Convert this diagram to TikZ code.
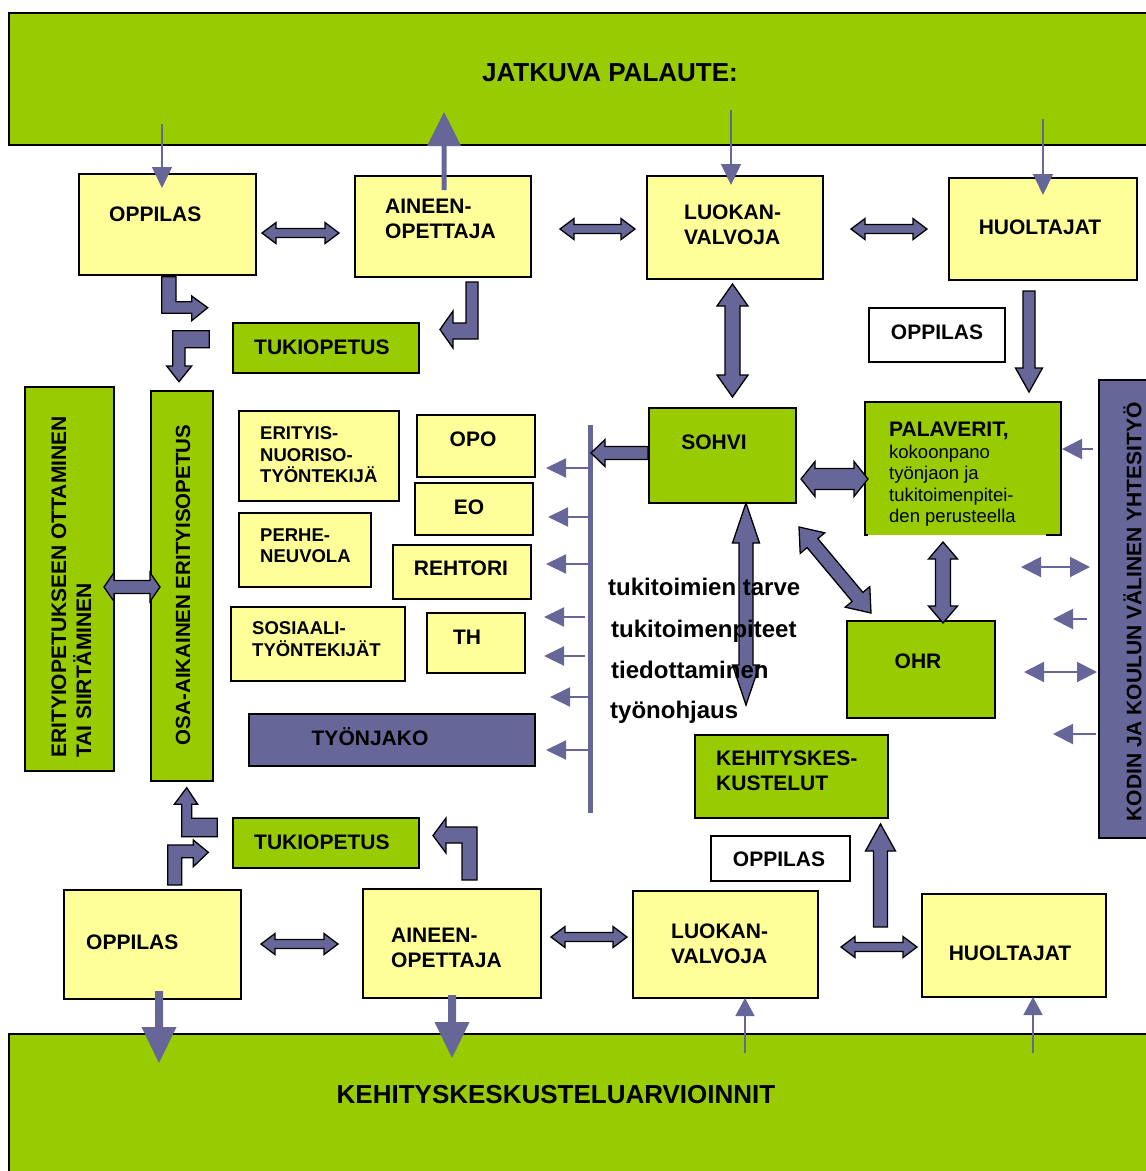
\documentclass[tikz,border=0pt]{standalone}
\usepackage{fontspec}
\setmainfont{Liberation Sans}
\usetikzlibrary{calc,arrows.meta}
\definecolor{grn}{HTML}{99CC00}
\definecolor{yel}{HTML}{FFFF99}
\definecolor{pur}{HTML}{666699}

\newcommand{\bx}[6]{\node[#1, minimum width={#4-#2}, minimum height={#5-#3}] (#6) at (#2,#3) {};}

\newcommand{\dblarr}[6][blk]{%
 \path let \p1=#2, \p2=#3, \n1={veclen(\x2-\x1,\y2-\y1)}, \n2={atan2(\y2-\y1,\x2-\x1)} in
   \pgfextra{\xdef\arL{\n1}\xdef\arA{\n2}\xdef\arX{\x1}\xdef\arY{\y1}};
 \draw[#1, shift={(\arX,\arY)}, rotate=\arA] (0pt,0pt) -- (#6pt,#5pt) -- (#6pt,#4pt) -- (\arL-#6pt,#4pt) -- (\arL-#6pt,#5pt) -- (\arL,0pt) -- (\arL-#6pt,-#5pt) -- (\arL-#6pt,-#4pt) -- (#6pt,-#4pt) -- (#6pt,-#5pt) -- cycle;}

\newcommand{\sglarr}[6][blk]{%
 \path let \p1=#2, \p2=#3, \n1={veclen(\x2-\x1,\y2-\y1)}, \n2={atan2(\y2-\y1,\x2-\x1)} in
   \pgfextra{\xdef\arL{\n1}\xdef\arA{\n2}\xdef\arX{\x1}\xdef\arY{\y1}};
 \draw[#1, shift={(\arX,\arY)}, rotate=\arA] (0pt,-#4pt) -- (\arL-#6pt,-#4pt) -- (\arL-#6pt,-#5pt) -- (\arL,0pt) -- (\arL-#6pt,#5pt) -- (\arL-#6pt,#4pt) -- (0pt,#4pt) -- cycle;}

\tikzset{
 ybox/.style={draw=black, line width=1.6pt, fill=yel, anchor=north west, inner sep=0pt, outer sep=0pt},
 gbox/.style={ybox, fill=grn},
 pbox/.style={ybox, fill=pur},
 wbox/.style={ybox, fill=white},
 lbl/.style={inner sep=0pt, align=left, font=\fontsize{21}{25}\selectfont\bfseries},
 slbl/.style={inner sep=0pt, align=left, font=\fontsize{18.5}{21.5}\selectfont\bfseries},
 blk/.style={draw=black, line width=1.3pt, fill=pur, line join=miter},
 blkf/.style={fill=pur, draw=none},
 thinarr/.style={draw=pur, line width=1.5pt, -{Triangle[width=20pt,length=21pt]}},
 busarr/.style={draw=pur, line width=2pt, -{Triangle[width=19pt,length=20pt]}},
 rarr/.style={draw=pur, line width=2pt, -{Triangle[width=20pt,length=20pt]}},
 rdbl/.style={draw=pur, line width=2pt, {Triangle[width=20pt,length=20pt]}-{Triangle[width=20pt,length=20pt]}},
 uparr/.style={draw=pur, line width=1.5pt, -{Triangle[width=19pt,length=18pt]}}
}

\begin{document}
\begin{tikzpicture}[x=1pt,y=-1pt]
\useasboundingbox (0,0) rectangle (1146,1171);
% bands
\bx{gbox, line width=2pt}{9}{13}{1160}{145}{band1}
\bx{gbox, line width=2pt}{9}{1034}{1160}{1180}{band2}
% boxes
\bx{ybox}{79}{174}{256}{275}{opp1}
\bx{ybox}{355}{176}{531}{277}{ain1}
\bx{ybox}{647}{176}{823}{279}{luo1}
\bx{ybox}{949}{178}{1137}{280}{huo1}
\bx{wbox}{869}{308}{1005}{362}{opw1}
\bx{gbox}{233}{323}{419}{373}{tuk1}
\bx{gbox}{25}{387}{114}{771}{eri}
\bx{gbox}{151}{391}{213}{781}{osa}
\bx{ybox}{239}{411}{399}{501}{nuo}
\bx{ybox}{417}{415}{535}{477}{opo}
\bx{ybox}{415}{483}{533}{535}{eo}
\bx{ybox}{239}{513}{371}{587}{perhe}
\bx{ybox}{393}{545}{531}{599}{reh}
\bx{ybox}{231}{607}{405}{681}{sos}
\bx{ybox}{427}{613}{525}{673}{th}
\bx{pbox}{249}{714}{535}{766}{tyo}
\bx{gbox}{649}{408}{796}{503}{sohvi}
\bx{gbox, draw=none}{865}{402}{1061}{535}{pal}
\draw[line width=1.6pt] ($(pal.south east)+(-15,0)$) -- (pal.south east) -- (pal.north east) -- (pal.north west) -- (pal.south west) -- ++(3,0);
\bx{gbox}{847}{621}{995}{718}{ohr}
\bx{gbox}{695}{735}{888}{818}{keh}
\bx{pbox}{1099}{380}{1175}{838}{kodin}
\bx{ybox}{64}{890}{241}{999}{opp2}
\bx{ybox}{363}{889}{541}{998}{ain2}
\bx{ybox}{633}{891}{818}{998}{luo2}
\bx{ybox}{922}{894}{1106}{997}{huo2}
\bx{wbox}{711}{836}{850}{881}{opw2}
\bx{gbox}{233}{818}{419}{868}{tuk2}

% bus line
\coordinate (bustop) at (590,425);
\coordinate (busbot) at (590,813);
\draw[pur, line width=5pt] (bustop) -- (busbot);
\foreach \yy/\xs/\xt in {43/0/-44, 92/0/-42, 139/0/-44, 192/-5/-46, 231/-5/-46, 272/0/-40, 325/0/-44}
  \draw[busarr] ($(bustop)+(\xs,\yy)$) -- ($(bustop)+(\xt,\yy)$);

% thin arrows from/to bands
\draw[thinarr] ($(band1.south)+(-422.5,-21)$) -- ($(opp1.north)+(-5.5,14)$);
\draw[thinarr] ($(band1.south)+(146.5,-35)$) -- ($(luo1.north)+(-4,9)$);
\draw[thinarr] ($(band1.south)+(458.5,-26)$) -- ($(huo1.north)+(0,17)$);
\draw[uparr] ($(band2.north)+(160.5,19)$) -- ($(luo2.south)+(19.5,0)$);
\draw[uparr] ($(band2.north)+(448.5,19)$) -- ($(huo2.south)+(19,0)$);

% thick arrows without outline
\sglarr[blkf]{($(ain1.north)+(1,14)$)}{($(band1.south)+(-140.5,-33)$)}{2.5}{17}{34}
\sglarr[blkf]{($(opp2.south)+(6.5,-8)$)}{($(band2.north)+(-425.5,29)$)}{4}{17.5}{36}
\sglarr[blkf]{($(ain2.south)+(0,-3)$)}{($(band2.north)+(-132.5,24)$)}{4}{17.5}{36}

% double block arrows
\dblarr{($(opp1.east)+(6,8.5)$)}{($(ain1.west)+(-16,6.5)$)}{4.5}{10.5}{14}
\dblarr{($(ain1.east)+(29,2.5)$)}{($(luo1.west)+(-12,1.5)$)}{4.5}{10.5}{14}
\dblarr{($(luo1.east)+(28,1.5)$)}{($(huo1.west)+(-22,0)$)}{4.5}{10.5}{14}
\dblarr{($(luo1.south)+(-2.5,5)$)}{($(sohvi.north)+(10,-11)$)}{7.5}{15.5}{22}
\dblarr{($(eri.east)+(-10,8)$)}{($(osa.west)+(9,1)$)}{6.5}{14.5}{10}
\dblarr{($(sohvi.east)+(5,23.5)$)}{($(pal.west)+(3,10.5)$)}{10.5}{17.5}{14}
\dblarr{($(sohvi.south)+(23.5,0)$)}{($(sohvi.south)+(23.5,202)$)}{7}{13.5}{40}
\dblarr{($(sohvi.south east)+(3,24)$)}{($(ohr.north west)+(24,-8)$)}{7}{16}{21}
\dblarr{($(pal.south)+(-20,7)$)}{($(ohr.north)+(22,2)$)}{7.5}{14.5}{17}
\dblarr{($(opp2.east)+(20,-0.5)$)}{($(ain2.west)+(-25,0.5)$)}{4.5}{10.5}{14}
\dblarr{($(ain2.east)+(10,-6.5)$)}{($(luo2.west)+(-6,-7.5)$)}{4.5}{10.5}{14}
\dblarr{($(luo2.east)+(23,2.5)$)}{($(huo2.west)+(-5,1.5)$)}{4.5}{10.5}{14}

% single block arrows
\sglarr{($(sohvi.west)+(-1,-2.5)$)}{($(bustop)+(1,28)$)}{6.5}{13.5}{14}
\sglarr{($(huo1.south)+(-14,11)$)}{($(pal.north)+(66,-10)$)}{6}{13.5}{24}
\sglarr{($(keh.south)+(89,109)$)}{($(keh.south)+(89,6)$)}{7}{15}{27}

% L-shaped block arrows
\draw[blk] (161.7,276.7) -- (176,276.7) -- (176,301.7) -- (191.7,301.7) -- (191.7,296) -- (207.7,307.7) -- (191.7,320.7) -- (191.7,313.3) -- (161.7,313.3) -- cycle;
\draw[blk] (172.7,330.7) -- (209.3,330.7) -- (209.3,347.7) -- (185,347.7) -- (185,366) -- (191.7,366) -- (179,381.7) -- (166.7,366) -- (172.7,366) -- cycle;
\draw[blk] (466,282) -- (478,282) -- (478,339) -- (453,339) -- (453,348) -- (440,329.5) -- (453,311) -- (453,323) -- (466,323) -- cycle;
\draw[blk] (186.7,787.7) -- (197.7,804.3) -- (191.7,804.3) -- (191.7,818.3) -- (217.3,818.3) -- (217.3,836.7) -- (181.7,836.7) -- (181.7,804.3) -- (174.3,804.3) -- cycle;
\draw[blk] (167.7,885) -- (167.7,845) -- (193.3,845) -- (193.3,840) -- (208.3,852.3) -- (193.3,866.7) -- (193.3,857.7) -- (181.7,857.7) -- (181.7,885) -- cycle;
\draw[blk] (462,880) -- (477,880) -- (477,827) -- (446,827) -- (446,818) -- (433,835.5) -- (446,853) -- (446,843) -- (462,843) -- cycle;

% right side thin arrows
\draw[rarr] ($(kodin.west)+(-6,-160)$) -- ($(kodin.west)+(-37,-160)$);
\draw[rdbl] ($(kodin.west)+(-78,-42)$) -- ($(kodin.west)+(-9,-42)$);
\draw[rarr] ($(kodin.west)+(-12,10)$) -- ($(kodin.west)+(-46,10)$);
\draw[rdbl] ($(kodin.west)+(-75,63)$) -- ($(kodin.west)+(-2,63)$);
\draw[rarr] ($(kodin.west)+(-3,125)$) -- ($(kodin.west)+(-46,125)$);

% texts
\node[inner sep=0pt, font=\fontsize{26}{30}\selectfont\bfseries] (band1t) at (610,73) {JATKUVA PALAUTE:};
\node[inner sep=0pt, font=\fontsize{26}{30}\selectfont\bfseries] (band2t) at (556,1095) {KEHITYSKESKUSTELUARVIOINNIT};
\node[lbl, anchor=west] (opp1t) at (109,214) {OPPILAS};
\node[lbl, anchor=north west] (ain1t) at (385,198.5) {AINEEN-\\OPETTAJA};
\node[lbl, anchor=north west] (luo1t) at (684,204.5) {LUOKAN-\\VALVOJA};
\node[lbl] (huo1t) at (1040,227) {HUOLTAJAT};
\node[lbl] (opw1t) at (937,332) {OPPILAS};
\node[lbl, anchor=west] (tuk1t) at (254,347) {TUKIOPETUS};
\node[lbl, rotate=90, anchor=west] (erit) at (71.5,758) {ERITYIOPETUKSEEN OTTAMINEN\\TAI SIIRTÄMINEN};
\node[lbl, rotate=90, font=\fontsize{20.5}{25}\selectfont\bfseries] (osat) at (183,585) {OSA-AIKAINEN ERITYISOPETUS};
\node[slbl, anchor=north west] (nuot) at (260,426.4) {ERITYIS-\\NUORISO-\\TYÖNTEKIJÄ};
\node[lbl] (opot) at (473,439) {OPO};
\node[lbl] (eot) at (469,507) {EO};
\node[slbl, anchor=north west] (perhet) at (260,528.4) {PERHE-\\NEUVOLA};
\node[lbl] (reht) at (461,568) {REHTORI};
\node[slbl, anchor=north west] (sost) at (252,621.4) {SOSIAALI-\\TYÖNTEKIJÄT};
\node[lbl] (tht) at (467,637) {TH};
\node[lbl] (tyot) at (370,737) {TYÖNJAKO};
\node[lbl] (sohvit) at (714,442) {SOHVI};
\node[anchor=north west, inner sep=0pt, align=left, font=\fontsize{18.5}{21.5}\selectfont] (palt) at (889,422) {{\bfseries\fontsize{21}{21.5}\selectfont PALAVERIT,}\\kokoonpano\\työnjaon ja\\tukitoimenpitei-\\den perusteella};
\node[lbl] (ohrt) at (918,661) {OHR};
\node[lbl, anchor=north west] (keht) at (716,750.5) {KEHITYSKES-\\KUSTELUT};
\node[lbl, rotate=90, font=\fontsize{21}{25}\selectfont\bfseries] (kodint) at (1132.5,612) {KODIN JA KOULUN VÄLINEN YHTESITYÖ};
\node[anchor=base west, inner sep=0pt, font=\fontsize{24}{28}\selectfont\bfseries] (tt1) at (608,595) {tukitoimien tarve};
\node[anchor=base west, inner sep=0pt, font=\fontsize{24}{28}\selectfont\bfseries] (tt2) at (611,637) {tukitoimenpiteet};
\node[anchor=base west, inner sep=0pt, font=\fontsize{24}{28}\selectfont\bfseries] (tt3) at (611,678) {tiedottaminen};
\node[anchor=base west, inner sep=0pt, font=\fontsize{24}{28}\selectfont\bfseries] (tt4) at (610,718) {työnohjaus};
\node[lbl, anchor=west] (tuk2t) at (254,842) {TUKIOPETUS};
\node[lbl, anchor=west] (opp2t) at (86,942) {OPPILAS};
\node[lbl, anchor=north west] (ain2t) at (391,927.5) {AINEEN-\\OPETTAJA};
\node[lbl, anchor=north west] (luo2t) at (671,923.5) {LUOKAN-\\VALVOJA};
\node[lbl] (huo2t) at (1010,953) {HUOLTAJAT};
\node[lbl] (opw2t) at (779,859) {OPPILAS};
\end{tikzpicture}
\end{document}
